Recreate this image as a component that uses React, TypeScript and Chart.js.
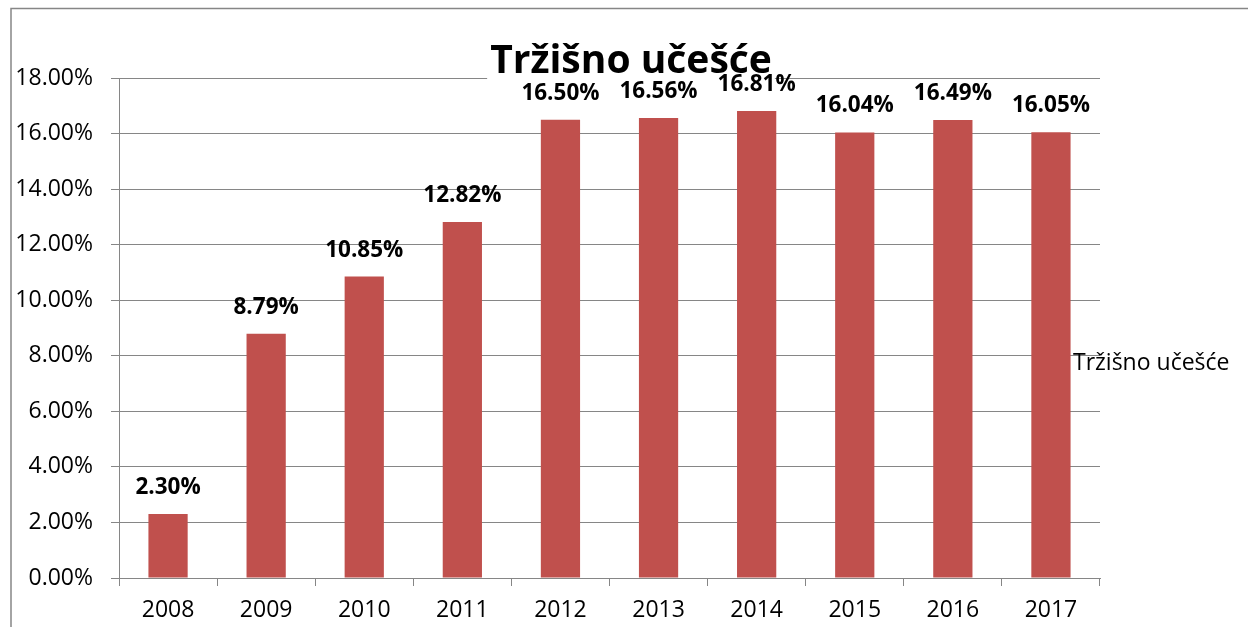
import React, { useEffect, useRef } from "react";
import { Chart, registerables } from "chart.js";

Chart.register(...registerables);

const categories = ["2008", "2009", "2010", "2011", "2012", "2013", "2014", "2015", "2016", "2017"];
const seriesName = "Tržišno učešće";
const marketShare = [2.3, 8.79, 10.85, 12.82, 16.5, 16.56, 16.81, 16.04, 16.49, 16.05];
const chartTitle = "Tržišno učešće";

const FONT = "'Open Sans', 'Liberation Sans', sans-serif";
const GRID = "#868686";
const BAR = "#C0504D";

const decorPlugin = {
  id: "decor",
  beforeDraw(chart: any) {
    const ctx = chart.ctx;
    ctx.save();
    ctx.fillStyle = "#ffffff";
    ctx.fillRect(0, 0, chart.width, chart.height);
    ctx.strokeStyle = GRID;
    ctx.lineWidth = 1.5;
    ctx.strokeRect(11, 8.5, chart.width + 20, chart.height + 20);
    ctx.restore();
  },
  beforeDatasetsDraw(chart: any) {
    const ctx = chart.ctx;
    ctx.save();
    ctx.font = `bold 39px ${FONT}`;
    const w = ctx.measureText(chartTitle).width;
    const cx = 631;
    ctx.fillStyle = "#ffffff";
    ctx.fillRect(cx - w / 2 - 3, 40, w + 6, 42);
    ctx.fillStyle = "#000000";
    ctx.textAlign = "center";
    ctx.textBaseline = "alphabetic";
    ctx.fillText(chartTitle, cx, 73);
    ctx.font = `23px ${FONT}`;
    ctx.textAlign = "left";
    ctx.textBaseline = "middle";
    ctx.fillText(seriesName, 1073, 363);
    ctx.restore();
  },
  afterDatasetsDraw(chart: any) {
    const ctx = chart.ctx;
    const meta = chart.getDatasetMeta(0);
    ctx.save();
    ctx.font = `bold 22.5px ${FONT}`;
    ctx.fillStyle = "#000000";
    ctx.textAlign = "center";
    ctx.textBaseline = "alphabetic";
    meta.data.forEach((bar: any, i: number) => {
      ctx.fillText(marketShare[i].toFixed(2) + "%", bar.x, bar.y - 20);
    });
    ctx.restore();
  },
};

export default function App() {
  const ref = useRef<HTMLCanvasElement>(null);
  useEffect(() => {
    if (!ref.current) return;
    const chart = new Chart(ref.current, {
      type: "bar",
      data: {
        labels: categories,
        datasets: [
          {
            label: seriesName,
            data: marketShare,
            backgroundColor: BAR,
            borderWidth: 0,
            categoryPercentage: 1,
            barPercentage: 0.4,
          },
        ],
      },
      options: {
        animation: false,
        responsive: false,
        layout: { padding: { left: 11, top: 78, right: 148, bottom: 0 } },
        plugins: {
          legend: { display: false },
          title: { display: false },
          tooltip: { enabled: false },
        },
        scales: {
          x: {
            afterFit: (s: any) => {
              s.height = 49;
            },
            grid: {
              display: true,
              drawOnChartArea: false,
              drawTicks: true,
              tickLength: 8,
              color: GRID,
              offset: true,
            },
            border: { display: true, color: GRID, width: 1 },
            ticks: {
              color: "#000000",
              font: { family: FONT, size: 23 },
              padding: 11,
              maxRotation: 0,
            },
          },
          y: {
            min: 0,
            max: 18,
            afterFit: (s: any) => {
              s.width = 108;
            },
            grid: { color: GRID, tickLength: 8, lineWidth: 1 },
            border: { display: true, color: GRID, width: 1 },
            ticks: {
              stepSize: 2,
              color: "#000000",
              font: { family: FONT, size: 23 },
              padding: 18,
              callback: (v: any) => Number(v).toFixed(2) + "%",
            },
          },
        },
      },
      plugins: [decorPlugin],
    });
    return () => chart.destroy();
  }, []);
  return (
    <div style={{ position: "fixed", left: 0, top: 0, width: 1248, height: 627 }}>
      <canvas ref={ref} width={1248} height={627} style={{ display: "block" }} />
    </div>
  );
}
